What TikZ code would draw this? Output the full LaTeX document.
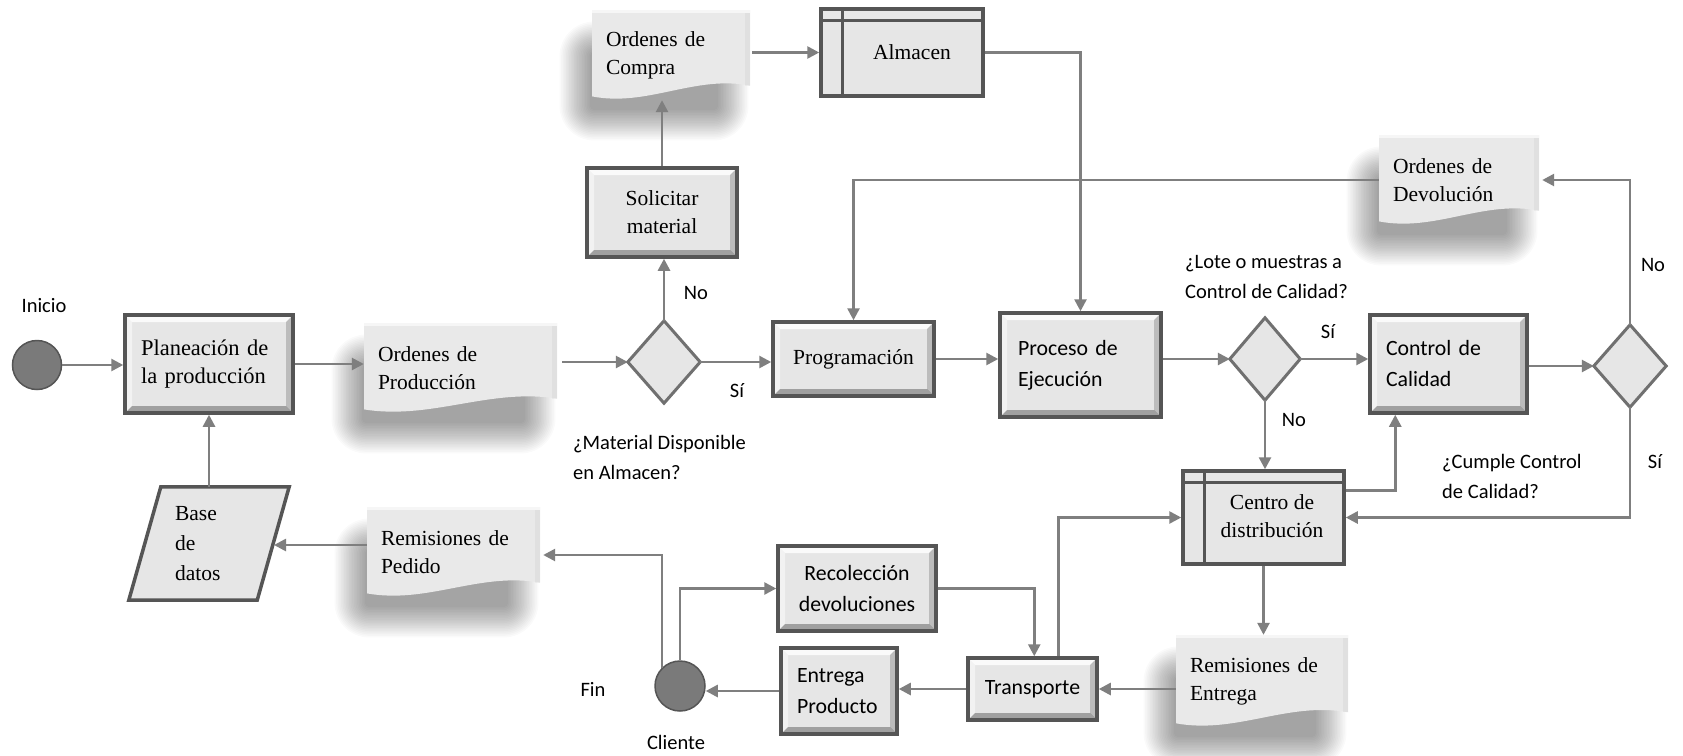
\documentclass[tikz,border=0pt]{standalone}
\usepackage{fontspec}
\setmainfont{Liberation Serif}
\newfontfamily\carl{Carlito}
\usetikzlibrary{arrows.meta,calc}
\definecolor{arrowgray}{HTML}{7F7F7F}
\definecolor{bordergray}{HTML}{555555}
\definecolor{fillgray}{HTML}{E6E6E6}
\definecolor{docgray}{HTML}{E9E9E9}
\definecolor{diagray}{HTML}{707070}
\definecolor{circfill}{HTML}{7A7A7A}
\tikzset{
  arr/.style={draw=arrowgray, line width=2.6pt, -{Triangle[length=12pt,width=12pt]}},
  serif/.style={font=\fontsize{21.5}{28}\selectfont},
  sans/.style={font=\carl\fontsize{21.8}{31}\selectfont},
  lab/.style={font=\carl\fontsize{20.5}{30}\selectfont, inner sep=0pt, align=left},
  bevelled/.style={path picture={
    \fill[white,opacity=.8] (path picture bounding box.north west) -- (path picture bounding box.north east) -- ([xshift=-7pt,yshift=-7pt]path picture bounding box.north east) -- ([xshift=7pt,yshift=-7pt]path picture bounding box.north west) -- cycle;
    \fill[white,opacity=.5] (path picture bounding box.north west) -- ([xshift=7pt,yshift=-7pt]path picture bounding box.north west) -- ([xshift=7pt,yshift=7pt]path picture bounding box.south west) -- (path picture bounding box.south west) -- cycle;
    \fill[black,opacity=.3] (path picture bounding box.south west) -- ([xshift=7pt,yshift=7pt]path picture bounding box.south west) -- ([xshift=-7pt,yshift=7pt]path picture bounding box.south east) -- (path picture bounding box.south east) -- cycle;
    \fill[black,opacity=.18] (path picture bounding box.south east) -- ([xshift=-7pt,yshift=7pt]path picture bounding box.south east) -- ([xshift=-7pt,yshift=-7pt]path picture bounding box.north east) -- (path picture bounding box.north east) -- cycle;
  }},
  procbox/.style={draw=bordergray, fill=fillgray, line width=3.5pt, inner sep=0pt, bevelled},
  storebox/.style={draw=bordergray, fill=fillgray, line width=3.5pt, inner sep=0pt, serif, path picture={
    \draw[bordergray,line width=3pt] ([yshift=-11.5pt]path picture bounding box.north west) -- ([yshift=-11.5pt]path picture bounding box.north east);
    \draw[bordergray,line width=3pt] ([xshift=21.5pt]path picture bounding box.north west) -- ([xshift=21.5pt]path picture bounding box.south west);
  }},
  diabox/.style={fill=fillgray, draw=diagray, line width=3pt, line join=miter},
  hidden/.style={inner sep=0pt},
  docbox/.style={serif, inner sep=0pt, align=left},
}
\newcommand\docnode[6]{%
  \pgfmathsetmacro\xa{#2-#4/2}\pgfmathsetmacro\xb{#2+#4/2}%
  \pgfmathsetmacro\ya{#3-#5/2}\pgfmathsetmacro\yb{#3+#5/2}%
  \pgfmathsetmacro\ww{#4}\pgfmathsetmacro\hh{#5}\pgfmathsetmacro\tw{#4-28}%
  \foreach \k in {0,...,19}{%
    \pgfmathsetmacro\rcx{1.6*\k+4}%
    \pgfmathsetmacro\ex{1.6*\k}%
    \fill[black,opacity=0.019,rounded corners=\rcx pt] ({\xa-2-\ex},{\ya+42-\ex}) rectangle ({\xb-32+\ex},{\yb+10+\ex});
  }%
  \fill[docgray] (\xa,\ya) -- (\xb,\ya) -- (\xb,{\ya+.84*\hh}) .. controls ({\xa+.65*\ww},{\ya+.72*\hh}) and ({\xa+.35*\ww},{\ya+1.08*\hh}) .. (\xa,{\ya+.96*\hh}) -- cycle;
  \fill[white,opacity=.6] (\xa,\ya) rectangle (\xb,{\ya+3});
  \fill[black,opacity=.035] ({\xb-5},{\ya+3}) rectangle (\xb,{\ya+.84*\hh});
  \node[docbox, minimum width=#4pt, minimum height=#5pt, text width=\tw pt] (#1) at (#2,#3) {#6};
}
\begin{document}
\begin{tikzpicture}[x=1pt,y=-1pt]
\fill[white] (0,0) rectangle (1683,755);
\useasboundingbox (0,0) rectangle (1683,755);

% documents
\docnode{ordprod}{460.5}{368}{193}{90}{Ordenes de\\Producción}
\docnode{ordcompra}{671}{55}{158}{90}{Ordenes de\\Compra}
\docnode{devol}{1459}{180}{160}{90}{Ordenes de\\Devolución}
\docnode{rementrega}{1262}{681}{172}{92}{Remisiones de\\Entrega}
\docnode{rempedido}{453.5}{552}{173}{90}{Remisiones de\\Pedido}

% terminals
\node[circle, minimum size=49pt, inner sep=0pt, fill=circfill, draw=bordergray, line width=1.5pt] (start) at (37,365) {};
\node[circle, minimum size=50pt, inner sep=0pt, fill=circfill, draw=bordergray, line width=1.5pt] (cliente) at (680,686) {};

% process boxes
\node[procbox, font=\fontsize{22.5}{28}\selectfont, minimum width=168pt, minimum height=98pt, text width=136pt, align=left] (plan) at (209,364) {\raisebox{5pt}{\begin{tabular}{@{}l@{}}Planeación de\\la producción\end{tabular}}};
\node[procbox, serif, minimum width=150pt, minimum height=89pt, align=center] (solic) at (662,212.5) {Solicitar\\material};
\node[procbox, serif, minimum width=161pt, minimum height=74pt] (prog) at (853.5,359) {Programación};
\node[procbox, sans, minimum width=161pt, minimum height=104pt, text width=125pt, align=left] (proceso) at (1080.5,365) {Proceso de\\Ejecución};
\node[procbox, sans, minimum width=157pt, minimum height=98pt, text width=125pt, align=left] (control) at (1448.5,364) {Control de\\Calidad};
\node[procbox, sans, minimum width=129pt, minimum height=62pt] (transp) at (1032.5,689) {Transporte};
\node[procbox, sans, minimum width=116pt, minimum height=86pt, text width=84pt, align=left] (entrega) at (839,691) {Entrega\\Producto};
\node[procbox, sans, minimum width=158pt, minimum height=85pt, align=center] (recol) at (857,588.5) {Recolección\\devoluciones};

% storage
\node[storebox, minimum width=162pt, minimum height=87pt] (almacen) at (902,52.5) {\hspace*{20pt}Almacen};
\node[storebox, minimum width=161pt, minimum height=93pt] (centro) at (1263.5,517.5) {\hspace*{17pt}\begin{tabular}{@{}c@{}}Centro de\\distribución\end{tabular}};

% decisions
\node[hidden, minimum width=72pt, minimum height=82pt] (d1) at (664,362) {};
\draw[diabox] (d1.north) -- (d1.east) -- (d1.south) -- (d1.west) -- cycle;
\node[hidden, minimum width=70pt, minimum height=82pt] (d2) at (1265,359) {};
\draw[diabox] (d2.north) -- (d2.east) -- (d2.south) -- (d2.west) -- cycle;
\node[hidden, minimum width=72pt, minimum height=82pt] (d3) at (1630,366) {};
\draw[diabox] (d3.north) -- (d3.east) -- (d3.south) -- (d3.west) -- cycle;

% database
\node[hidden, minimum width=160pt, minimum height=113pt] (base) at (209,543.5) {};
\fill[fillgray] (base.north east) -- ($(base.north west)+(32,0)$) -- (base.south west) -- ($(base.south east)+(-32,0)$) -- cycle;
\draw[bordergray, line width=3.5pt, line join=miter] (base.north east) -- ($(base.north west)+(32,0)$) -- (base.south west) -- ($(base.south east)+(-32,0)$) -- cycle;
\node[hidden, font=\fontsize{21.5}{30}\selectfont, text width=68pt, align=left] (basetext) at (base.center) {Base\\de\\datos};

% connectors
\draw[arr] (start) -- (plan.west |- start);
\draw[arr] (plan.east) -- (plan.east -| ordprod.west);
\draw[arr, shorten <=5pt] (ordprod.east |- d1.west) -- (d1.west);
\draw[arr] (d1.east) -- (d1.east -| prog.west);
\draw[arr] (d1.north) -- (d1.north |- solic.south);
\draw[arr] (solic.north) -- (solic.north |- ordcompra.south);
\draw[arr, shorten <=2pt] (ordcompra.east |- almacen.west) -- (almacen.west);
\draw[arr] (almacen.east) -| (proceso.north);
\draw[arr] (devol.west) -| (prog.north);
\draw[arr] (prog.east) -- (prog.east -| proceso.west);
\draw[arr] (proceso.east |- d2.west) -- (d2.west);
\draw[arr] (d2.east) -- (d2.east -| control.west);
\draw[arr] (d2.south) -- (d2.south |- centro.north);
\draw[arr] ($(centro.north east)+(0,21)$) -| ($(control.south west)+(27,0)$);
\draw[arr] (control.east |- d3.west) -- (d3.west);
\draw[arr, shorten >=3pt] (d3.north) |- (devol.east);
\draw[arr] (d3.south) |- (centro.east);
\draw[arr] (centro.south) -- (centro.south |- rementrega.north);
\draw[arr] (rementrega.west |- transp.east) -- (transp.east);
\draw[arr] (transp.west) -- (transp.west -| entrega.east);
\draw[arr] (entrega.west) -- (entrega.west -| cliente.east);
\draw[arr] ($(transp.north west)+(92,0)$) |- (centro.west);
\draw[arr] (recol.east) -| ($(transp.north west)+(68,0)$);
\draw[arr] (cliente.north) |- (recol.west);
\draw[arr, shorten >=3pt] (cliente.135) |- ($(rempedido.east)+(0,3)$);
\coordinate (baseR) at (274,545);
\draw[arr] (rempedido.west |- baseR) -- (baseR);
\draw[arr] (base.north) -- (base.north |- plan.south);

% labels
\node[lab] (linicio) at (44,306) {Inicio};
\node[lab] (lno1) at (696,293) {No};
\node[lab] (lsi1) at (737,391) {Sí};
\node[lab, anchor=west] (lmat) at (573,457) {¿Material Disponible\\en Almacen?};
\node[lab, anchor=west] (llote) at (1185,277) {¿Lote o muestras a\\Control de Calidad?};
\node[lab] (lsi2) at (1328,332) {Sí};
\node[lab] (lno2) at (1294,420) {No};
\node[lab, anchor=west] (lcumple) at (1442,476) {¿Cumple Control\\de Calidad?};
\node[lab] (lno3) at (1653,265) {No};
\node[lab] (lsi3) at (1655,462) {Sí};
\node[lab] (lfin) at (593,689) {Fin};
\node[lab] (lcliente) at (676,742) {Cliente};
\end{tikzpicture}
\end{document}
